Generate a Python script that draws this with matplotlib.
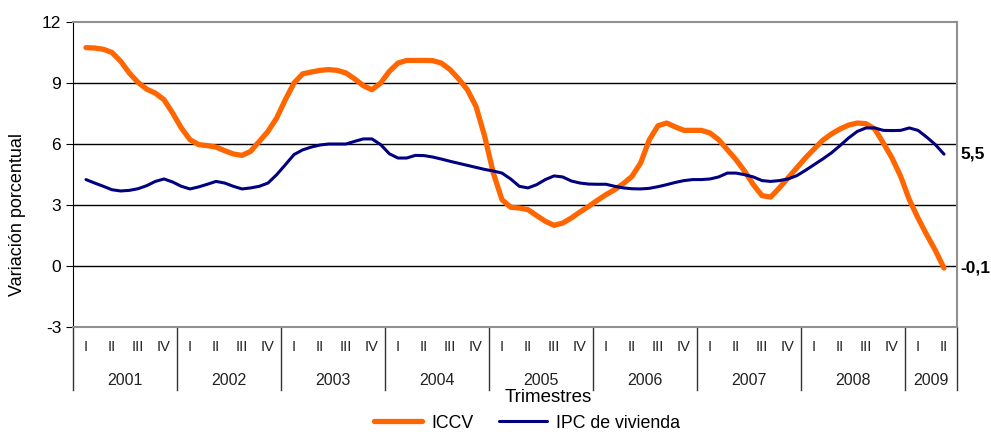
import numpy as np
import matplotlib.pyplot as plt
from matplotlib.transforms import blended_transform_factory

plt.rcParams['font.family'] = ['Liberation Sans', 'DejaVu Sans']
plt.rcParams['axes.unicode_minus'] = False

# valores leidos cada mes (3 por trimestre), 2001 I (mitad) a 2009 II (mitad)
iccv = [10.74, 10.72, 10.66, 10.5, 10.07, 9.49, 9.03, 8.7, 8.5, 8.18,
        7.52, 6.79, 6.21, 5.97, 5.92, 5.85, 5.67, 5.51, 5.44, 5.64,
        6.13, 6.62, 7.28, 8.18, 9.0, 9.45, 9.54, 9.62, 9.66, 9.62,
        9.49, 9.2, 8.87, 8.67, 9.0, 9.57, 9.98, 10.11, 10.11, 10.11,
        10.1, 9.98, 9.66, 9.2, 8.67, 7.85, 6.38, 4.57, 3.26, 2.89,
        2.85, 2.77, 2.48, 2.2, 2.0, 2.11, 2.36, 2.66, 2.93, 3.23,
        3.51, 3.75, 4.05, 4.41, 5.07, 6.21, 6.9, 7.03, 6.84, 6.67,
        6.67, 6.67, 6.54, 6.21, 5.72, 5.23, 4.66, 4.0, 3.46, 3.39,
        3.84, 4.33, 4.82, 5.31, 5.75, 6.18, 6.49, 6.74, 6.93, 7.03,
        7.0, 6.74, 6.05, 5.31, 4.41, 3.26, 2.36, 1.54, 0.77, -0.1]
ipc_viv = [4.25, 4.08, 3.92, 3.75, 3.69, 3.72, 3.8, 3.95, 4.16, 4.28,
           4.13, 3.92, 3.79, 3.89, 4.02, 4.16, 4.08, 3.92, 3.79, 3.84,
           3.92, 4.08, 4.49, 4.98, 5.48, 5.71, 5.85, 5.95, 6.0, 6.0,
           6.0, 6.13, 6.25, 6.25, 5.97, 5.52, 5.31, 5.31, 5.44, 5.43,
           5.36, 5.26, 5.15, 5.05, 4.95, 4.85, 4.75, 4.67, 4.57, 4.28,
           3.92, 3.84, 4.0, 4.25, 4.43, 4.38, 4.18, 4.08, 4.03, 4.02,
           4.02, 3.92, 3.84, 3.8, 3.79, 3.82, 3.9, 4.0, 4.11, 4.2,
           4.25, 4.25, 4.28, 4.38, 4.57, 4.57, 4.49, 4.38, 4.2, 4.16,
           4.2, 4.28, 4.44, 4.7, 4.98, 5.26, 5.56, 5.92, 6.3, 6.62,
           6.79, 6.79, 6.67, 6.66, 6.67, 6.79, 6.67, 6.34, 5.97, 5.5]

years = ['2001', '2002', '2003', '2004', '2005', '2006', '2007', '2008', '2009']
quarters_per_year = [4, 4, 4, 4, 4, 4, 4, 4, 2]
roman = ['I', 'II', 'III', 'IV']

fig = plt.figure(figsize=(9.91, 4.32), dpi=100)
ax = fig.add_axes([73/991, 1-327/432, (957-73)/991, (327-22)/432])

x = np.arange(len(iccv)) / 3.0
ax.plot(x, iccv, color='#FF6600', lw=3.8, label='ICCV', solid_capstyle='round')
ax.plot(x, ipc_viv, color='#000080', lw=2.2, label='IPC de vivienda', solid_capstyle='round')

nq = sum(quarters_per_year)
ax.set_xlim(-0.5, nq - 0.5)
ax.set_ylim(-3, 12)
ax.set_yticks(range(-3, 13, 3))
ax.tick_params(axis='y', direction='out', length=5, labelsize=12.5, color='black')
ax.set_xticks([])
for y in [0, 3, 6, 9]:
    ax.axhline(y, color='black', lw=1, zorder=0)

ax.spines['left'].set_color('black')
for s in ['top', 'right', 'bottom']:
    ax.spines[s].set_color('#909090')
    ax.spines[s].set_linewidth(1.5)

# eje de categorias de dos niveles
tr = blended_transform_factory(ax.transData, ax.transAxes)
q = 0
bounds = [-0.5]
for yr, n in zip(years, quarters_per_year):
    for i in range(n):
        ax.text(q + i, -0.066, roman[i], transform=tr, ha='center', va='center',
                fontsize=10.5, color='#222222')
    ax.text(q + (n - 1) / 2, -0.174, yr, transform=tr, ha='center', va='center',
            fontsize=11.5, color='#222222')
    q += n
    bounds.append(q - 0.5)
for b in bounds:
    ax.plot([b, b], [0, -0.207], transform=tr, color='#333333', lw=1, clip_on=False)

# valores finales
ax.text(nq - 0.5 + 0.12, ipc_viv[-1], '5,5', fontsize=12.5, fontweight='bold',
        va='center', ha='left')
ax.text(nq - 0.5 + 0.12, iccv[-1], '-0,1', fontsize=12.5, fontweight='bold',
        va='center', ha='left')

fig.text(548/991, 1-398/432, 'Trimestres', ha='center', va='center', fontsize=13.5)
fig.text(18/991, 1-215/432, 'Variación porcentual', rotation=90, ha='center',
         va='center', fontsize=13)

fig.legend(loc='center', bbox_to_anchor=(527/991, 1-423/432), ncol=2, frameon=False,
           fontsize=12.8, handlelength=2.7, columnspacing=1.4, handletextpad=0.55)

plt.savefig('out.png', dpi=100)
